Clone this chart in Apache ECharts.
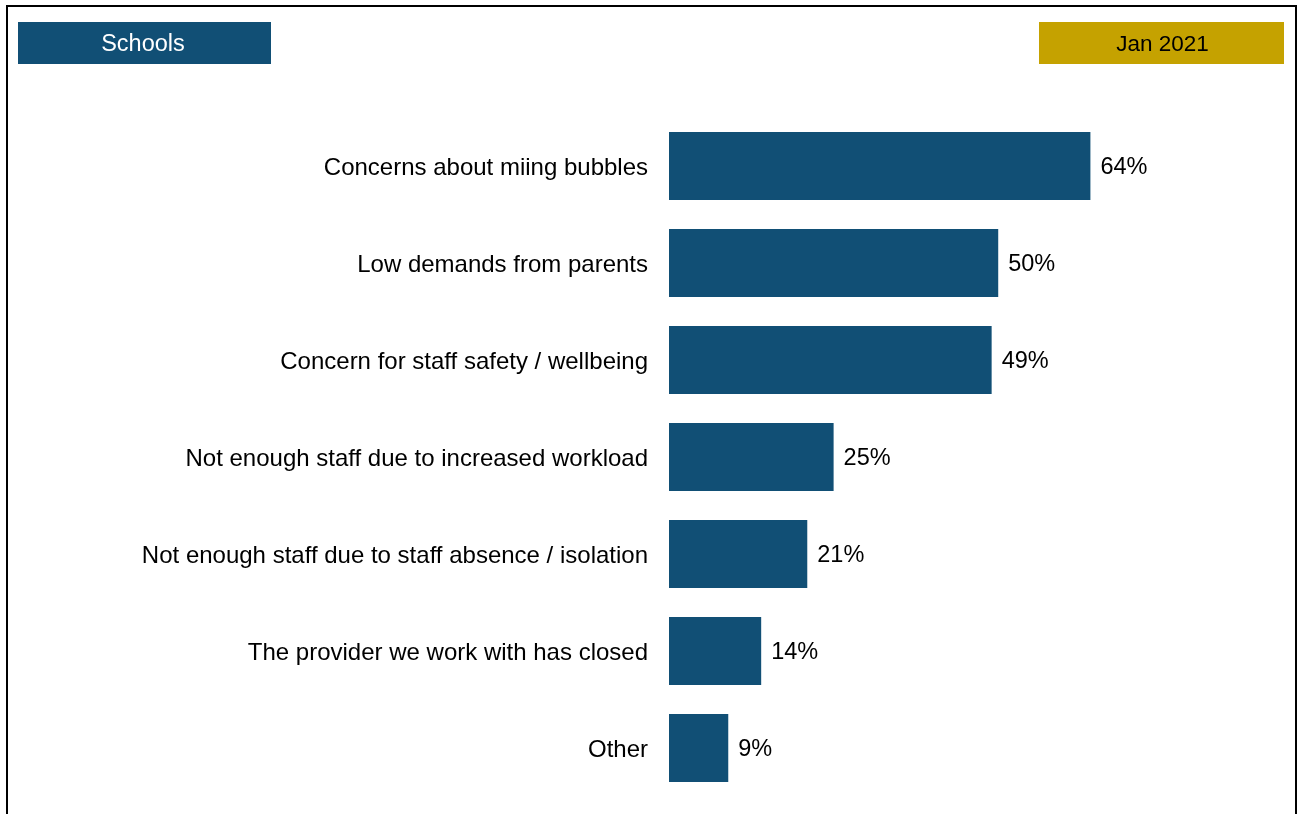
<!DOCTYPE html>
<html>
<head>
<meta charset="utf-8">
<script src="https://cdn.jsdelivr.net/npm/echarts@6/dist/echarts.min.js"></script>
<style>
  html, body { margin: 0; padding: 0; background: #ffffff; }
  #chart { width: 1298px; height: 814px; }
</style>
</head>
<body>
<div id="chart"></div>
<script>
// Reasons given for not opening / limiting provision (share of schools)
const categories = [
  'Concerns about miing bubbles',
  'Low demands from parents',
  'Concern for staff safety / wellbeing',
  'Not enough staff due to increased workload',
  'Not enough staff due to staff absence / isolation',
  'The provider we work with has closed',
  'Other'
];
const values = [64, 50, 49, 25, 21, 14, 9];

const headerLeft = 'Schools';
const headerRight = 'Jan 2021';

const NAVY = '#114f75';
const GOLD = '#c5a200';
const FONT = 'Arial, "Liberation Sans", Helvetica, sans-serif';

const chart = echarts.init(document.getElementById('chart'), null, { renderer: 'canvas' });

chart.setOption({
  backgroundColor: '#ffffff',
  animation: false,
  textStyle: { fontFamily: FONT },
  grid: {
    left: 669,
    top: 117.5,
    width: 592.6,
    height: 679,
    containLabel: false
  },
  xAxis: {
    type: 'value',
    min: 0,
    max: 90,
    show: false
  },
  yAxis: {
    type: 'category',
    data: categories,
    inverse: true,
    axisLine: { show: false },
    axisTick: { show: false },
    splitLine: { show: false },
    axisLabel: {
      margin: 21,
      formatter: v => '{c|' + v + '}',
      rich: {
        c: {
          color: '#000000',
          fontSize: 24,
          fontFamily: FONT,
          padding: [4, 0, 0, 0]
        }
      }
    }
  },
  series: [{
    type: 'bar',
    data: values,
    barWidth: 68,
    itemStyle: { color: NAVY },
    label: {
      show: true,
      position: 'right',
      distance: 10,
      offset: [0, 2],
      color: '#000000',
      fontSize: 23.5,
      fontFamily: FONT,
      formatter: p => p.value + '%'
    }
  }],
  graphic: [
    {
      type: 'rect',
      shape: { x: 7, y: 6, width: 1289, height: 840 },
      style: { fill: 'none', stroke: '#000000', lineWidth: 2 },
      silent: true
    },
    {
      type: 'group',
      left: 18,
      top: 22,
      children: [
        { type: 'rect', shape: { x: 0, y: 0, width: 253, height: 42 }, style: { fill: NAVY } },
        {
          type: 'text',
          x: 125, y: 23,
          style: {
            text: headerLeft, fill: '#ffffff', fontSize: 23.5, fontFamily: FONT,
            align: 'center', verticalAlign: 'middle'
          }
        }
      ]
    },
    {
      type: 'group',
      left: 1039,
      top: 22,
      children: [
        { type: 'rect', shape: { x: 0, y: 0, width: 245, height: 42 }, style: { fill: GOLD } },
        {
          type: 'text',
          x: 123.5, y: 23,
          style: {
            text: headerRight, fill: '#000000', fontSize: 22.5, fontFamily: FONT,
            align: 'center', verticalAlign: 'middle'
          }
        }
      ]
    }
  ]
});
</script>
</body>
</html>
